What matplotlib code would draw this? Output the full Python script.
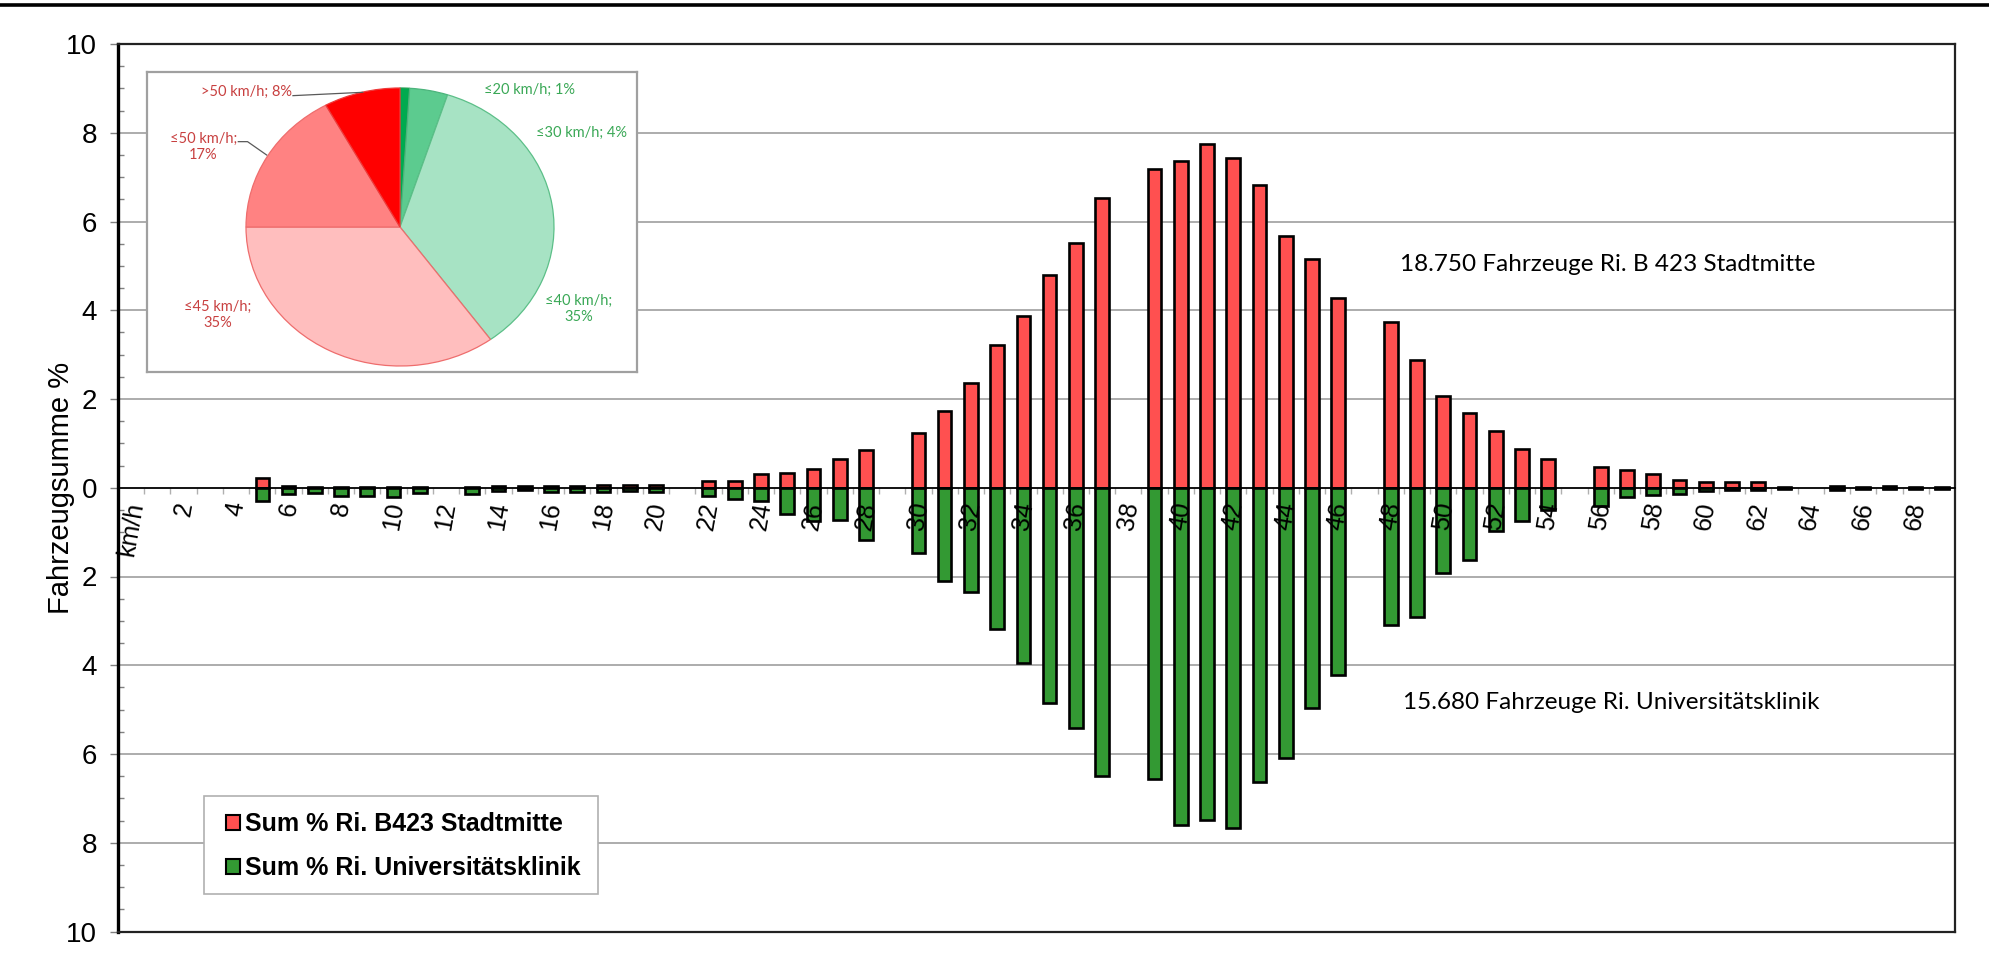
import numpy as np
import matplotlib
matplotlib.use("Agg")
import matplotlib.pyplot as plt
from matplotlib.patches import Patch, Rectangle
from matplotlib.lines import Line2D

# speed classes (km/h), one bar pair per class
speeds = np.arange(70)
speed_labels = ["km/h"] + ["" if s % 2 else str(s) for s in speeds[1:]]

# share of vehicles per speed class in %
stadtmitte = [0, 0, 0, 0, 0, 0.23, 0.05, 0.02, 0.02, 0.01,
              0.01, 0.01, 0, 0.01, 0.03, 0.03, 0.04, 0.04, 0.06, 0.07,
              0.07, 0, 0.16, 0.16, 0.30, 0.34, 0.42, 0.65, 0.84, 0,
              1.23, 1.72, 2.37, 3.22, 3.88, 4.80, 5.52, 6.53, 0, 7.19,
              7.37, 7.74, 7.44, 6.83, 5.67, 5.15, 4.28, 0, 3.74, 2.88,
              2.06, 1.68, 1.28, 0.88, 0.65, 0, 0.46, 0.41, 0.30, 0.17,
              0.14, 0.12, 0.12, 0.02, 0, 0.04, 0.02, 0.03, 0.02, 0.01]
uniklinik = [0, 0, 0, 0, 0, 0.29, 0.13, 0.12, 0.18, 0.19,
             0.21, 0.12, 0, 0.13, 0.08, 0.06, 0.09, 0.09, 0.09, 0.07,
             0.10, 0, 0.18, 0.25, 0.29, 0.60, 0.74, 0.73, 1.17, 0,
             1.47, 2.11, 2.35, 3.19, 3.95, 4.86, 5.42, 6.50, 0, 6.56,
             7.59, 7.49, 7.67, 6.64, 6.10, 4.97, 4.22, 0, 3.10, 2.92,
             1.93, 1.62, 0.98, 0.75, 0.50, 0, 0.41, 0.20, 0.16, 0.15,
             0.07, 0.06, 0.06, 0.02, 0, 0.04, 0.03, 0.02, 0.02, 0.02]

series_names = ["Sum % Ri. B423 Stadtmitte", "Sum % Ri. Universitätsklinik"]
totals = ["18.750 Fahrzeuge Ri. B 423 Stadtmitte",
          "15.680 Fahrzeuge Ri. Universitätsklinik"]

# speed-band shares for the pie
pie_labels = ["≤20 km/h; 1%", "≤30 km/h; 4%", "≤40 km/h;\n35%",
              "≤45 km/h;\n35%", "≤50 km/h;\n17%", ">50 km/h; 8%"]
pie_shares = [1, 4, 35, 35, 17, 8]

RED = "#ff5050"
GREEN = "#339933"

fig = plt.figure(figsize=(19.89, 9.74), dpi=100)
ax = fig.add_axes([118 / 1989, 1 - 931.5 / 974, 1837 / 1989, 887.5 / 974])

red = np.array(stadtmitte)
green = np.array(uniklinik)
has = (red + green) > 0
ax.bar(speeds[has], red[has], width=0.52, color=RED, edgecolor="black",
       linewidth=1.9, zorder=3)
ax.bar(speeds[has], -green[has], width=0.52, color=GREEN, edgecolor="black",
       linewidth=1.9, zorder=3)

ax.set_xlim(-0.5, 69.5)
ax.set_ylim(-10, 10)
ax.set_xticks([])

yt = np.arange(-10, 11, 2)
ax.set_yticks(yt)
ax.set_yticklabels([str(abs(v)) for v in yt], fontsize=20,
                   family="Liberation Sans")
ax.set_yticks(np.arange(-10, 10.5, 0.5), minor=True)
ax.tick_params(axis="y", which="major", direction="out", length=6,
               width=1, color="#808080", pad=9)
ax.tick_params(axis="y", which="minor", direction="in", length=4,
               width=1, color="#808080")
for v in yt:
    if v not in (-10, 0, 10):
        ax.axhline(v, color="#a6a6a6", linewidth=1.3, zorder=1)

for side in ["top", "right", "bottom"]:
    ax.spines[side].set_linewidth(1.6)
    ax.spines[side].set_color("#222222")
ax.spines["left"].set_linewidth(2.4)
ax.spines["left"].set_color("black")

ax.set_ylabel("Fahrzeugsumme %", fontsize=21, family="Liberation Sans")
ax.yaxis.label.set_va("center")
ax.yaxis.set_label_coords(-0.031, 0.5)

# category axis sitting on the zero line, drawn over the bars
sec = ax.secondary_xaxis(0.5)
sec.set_alignment("bottom")
sec.set_zorder(4)
sec.spines["bottom"].set_color("black")
sec.spines["bottom"].set_linewidth(1.3)
sec.set_xticks(speeds)
sec.set_xticklabels(speed_labels, rotation=80, fontsize=18,
                    family="Liberation Sans")
sec.set_xticks(speeds[:-1] + 0.5, minor=True)
sec.tick_params(axis="x", which="major", length=0, pad=9)
sec.tick_params(axis="x", which="minor", direction="out", length=4,
                width=1, color="#b0b0b0")

ax.text(56.25, 5.03, totals[0], fontsize=17.5, family="Lato",
        ha="center", va="center")
ax.text(56.4, -4.84, totals[1], fontsize=17.5, family="Lato",
        ha="center", va="center")

# legend: frame drawn separately so the padding can differ per side
ax.add_patch(Rectangle(((204 - 118) / 1837, (931.5 - 894) / 887.5),
                       394 / 1837, 98 / 887.5, transform=ax.transAxes,
                       facecolor="white", edgecolor="#b0b0b0",
                       linewidth=1.2, zorder=5))
handles = [Patch(facecolor=RED, edgecolor="black", linewidth=1.5),
           Patch(facecolor=GREEN, edgecolor="black", linewidth=1.5)]
leg = ax.legend(handles, series_names, loc="center left",
                bbox_to_anchor=((226 - 118) / 1837, (931.5 - 846) / 887.5),
                borderaxespad=0, borderpad=0, frameon=False,
                prop={"family": "Liberation Sans", "weight": "bold",
                      "size": 18},
                handlelength=0.55, handleheight=0.55, handletextpad=0.2,
                labelspacing=0.8)
leg.set_zorder(6)

# pie inset with speed bands
pax = fig.add_axes([147 / 1989, 1 - 372 / 974, 490 / 1989, 300 / 974])
pax.set_zorder(5)
wedges, _ = pax.pie(pie_shares, startangle=90, counterclock=False,
                    colors=["#00aa4f", "#5ccb8f", "#a7e3c4",
                            "#ffbebe", "#ff8282", "#ff0000"],
                    wedgeprops=dict(linewidth=0.9))
edge_cols = ["#1f9e4f", "#4cb47c", "#5cbf88", "#ee6d6d", "#ee6d6d", "#ee3a3a"]
for w, c in zip(wedges, edge_cols):
    w.set_edgecolor(c)
pax.set_aspect("auto")
pax.set_xlim(-253 / 154, 237 / 154)
pax.set_ylim(-145 / 139, 155 / 139)
pax.set_frame_on(True)
pax.set_facecolor("white")
for s in pax.spines.values():
    s.set_color("#a0a0a0")
    s.set_linewidth(1.6)

lab_green = "#3aa856"
lab_red = "#c84040"
pfont = dict(fontsize=10.5, family="Lato", ha="center", va="center",
             multialignment="center")
pax.text(0.84, 0.986, pie_labels[0], color=lab_green, **pfont)
pax.text(1.18, 0.679, pie_labels[1], color=lab_green, **pfont)
pax.text(1.158, -0.592, pie_labels[2], color=lab_green, **pfont)
pax.text(-1.184, -0.633, pie_labels[3], color=lab_red, **pfont)
pax.text(-1.277, 0.578, pie_labels[4], color=lab_red, **pfont)
pax.text(-0.70, 0.97, pie_labels[5], color=lab_red, fontsize=10.5,
         family="Lato", ha="right", va="center")
pax.plot([-0.695, -0.242], [0.945, 0.969], color="#595959", linewidth=0.9)
pax.plot([-1.05, -0.99, -0.866], [0.614, 0.614, 0.518], color="#595959",
         linewidth=0.9)

# heavy rule along the top edge
fig.add_artist(Line2D([0, 1], [1 - 4.5 / 974] * 2, transform=fig.transFigure,
                      color="black", linewidth=2.6))

fig.savefig("out.png", dpi=100)
